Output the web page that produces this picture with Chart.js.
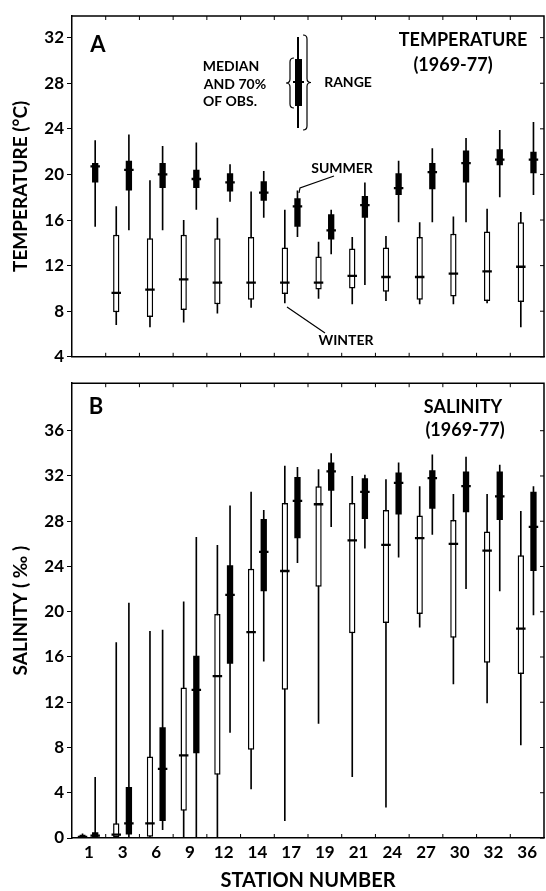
<!DOCTYPE html>
<html>
<head>
<meta charset="utf-8">
<script src="https://cdn.jsdelivr.net/npm/chart.js@4/dist/chart.umd.min.js"></script>
<style>
  html, body { margin: 0; padding: 0; background: #fff; }
  #wrap { position: relative; width: 546px; height: 891px; }
  .panel { position: absolute; left: 0; width: 546px; }
</style>
</head>
<body>
<div id="wrap">
  <div class="panel" style="top:0;height:370px"><canvas id="chartTemp"></canvas></div>
  <div class="panel" style="top:370px;height:521px"><canvas id="chartSal"></canvas></div>
</div>
<script>
const stations = ["1", "3", "6", "9", "12", "14", "17", "19", "21", "24", "27", "30", "32", "36"];

// temperature (deg C), winter = open boxes
const tempWinterMin  = [null, 6.8, 6.6, 7.0, 7.8, 8.3, 8.7, 9.1, 8.6, 8.9, 8.6, 8.6, 8.7, 6.6];
const tempWinterLow  = [null, 7.9, 7.5, 8.1, 8.6, 9.0, 9.5, 9.9, 10.0, 9.7, 9.0, 9.3, 8.9, 8.8];
const tempWinterMed  = [null, 9.6, 9.9, 10.8, 10.5, 10.5, 10.5, 10.5, 11.1, 11.0, 11.0, 11.3, 11.5, 11.9];
const tempWinterHigh = [null, 14.7, 14.4, 14.7, 14.4, 14.5, 13.6, 12.8, 13.5, 13.6, 14.5, 14.8, 15.0, 15.8];
const tempWinterMax  = [null, 17.2, 19.5, 16.0, 16.2, 18.5, 16.9, 14.1, 14.5, 14.6, 15.8, 16.3, 17.0, 16.7];

// temperature, summer = filled boxes
const tempSummerMin  = [15.4, 15.1, 15.1, 16.9, 17.6, 16.2, 14.5, 13.0, 10.3, 15.8, 15.8, 15.8, 18.0, 18.2];
const tempSummerLow  = [19.3, 18.6, 18.8, 18.8, 18.5, 17.7, 15.4, 14.3, 16.2, 18.2, 18.7, 19.3, 20.8, 20.1];
const tempSummerMed  = [20.7, 20.4, 20.0, 19.6, 19.3, 18.4, 17.2, 15.1, 17.3, 18.8, 20.2, 21.0, 21.3, 21.3];
const tempSummerHigh = [21.0, 21.2, 21.0, 20.4, 20.1, 19.4, 17.9, 16.5, 18.1, 20.1, 21.0, 22.1, 22.2, 22.0];
const tempSummerMax  = [23.0, 23.5, 22.5, 22.8, 20.9, 20.3, 18.6, 16.9, 19.3, 21.2, 22.3, 23.2, 23.9, 24.6];

// salinity (per mil), winter
const salWinterMin  = [0, 0, 0, 0, 0, 4.3, 1.5, 10.1, 5.4, 2.7, 18.6, 13.6, 11.9, 8.2];
const salWinterLow  = [0, 0, 0.1, 2.4, 5.6, 7.8, 13.1, 22.2, 18.1, 19.0, 19.8, 17.7, 15.5, 14.5];
const salWinterMed  = [0.1, 0.3, 1.3, 7.3, 14.3, 18.2, 23.6, 29.5, 26.3, 25.9, 26.5, 26.0, 25.4, 18.5];
const salWinterHigh = [0.3, 1.3, 7.2, 13.3, 19.8, 23.8, 29.6, 31.1, 29.6, 29.0, 28.5, 28.1, 27.1, 25.0];
const salWinterMax  = [0.4, 17.3, 18.3, 20.9, 25.9, 30.6, 32.9, 32.6, 32.0, 31.7, 31.1, 30.4, 30.4, 28.9];

// salinity, summer
const salSummerMin  = [0, 0, 0.7, 0, 9.3, 15.6, 24.3, 27.5, 25.6, 24.8, 26.8, 22.0, 21.8, 19.7];
const salSummerLow  = [0, 0.3, 1.5, 7.5, 15.4, 21.8, 26.5, 30.7, 28.2, 28.6, 29.1, 28.8, 28.1, 23.6];
const salSummerMed  = [0.2, 1.3, 6.1, 13.1, 21.5, 25.3, 29.8, 32.4, 30.6, 31.4, 31.8, 31.1, 30.2, 27.5];
const salSummerHigh = [0.5, 4.5, 9.8, 16.1, 24.1, 28.2, 31.9, 33.2, 31.8, 32.3, 32.5, 32.4, 32.4, 30.6];
const salSummerMax  = [5.4, 20.8, 18.4, 26.6, 29.4, 29.0, 32.8, 34.0, 32.1, 33.2, 33.9, 33.7, 33.0, 31.1];

const FONT = 'Lato, "DejaVu Sans", sans-serif';
const CAT_PCT = 0.75;

// whisker + 70% box + median tick for one season
function boxSets(min, low, med, high, max, stack, fill) {
  const pair = (a, b) => a.map((v, i) => (v == null ? null : [v, b[i]]));
  return [
    {
      label: stack + " range",
      data: pair(min, max),
      stack, order: 2,
      backgroundColor: "#000",
      barPercentage: 0.13, categoryPercentage: CAT_PCT,
    },
    {
      label: stack + " 70%",
      data: pair(low, high),
      stack, order: 1,
      backgroundColor: fill,
      borderColor: "#000",
      borderWidth: fill === "#fff" ? 1.5 : 0,
      borderSkipped: false,
      barPercentage: 0.5, categoryPercentage: CAT_PCT,
    },
    {
      label: stack + " median",
      data: med.map((v) => (v == null ? null : [v - 0.1, v + 0.1])),
      stack, order: 0,
      backgroundColor: "#000",
      barPercentage: 0.75, categoryPercentage: CAT_PCT,
    },
  ];
}

function drawText(ctx, items) {
  ctx.fillStyle = "#000";
  ctx.textAlign = "center";
  ctx.textBaseline = "middle";
  items.forEach((t) => {
    ctx.font = t.font;
    ctx.fillText(t.text, t.x, t.y);
  });
}

function brace(ctx, x, y1, y2, dir) {
  const w = 4 * dir;
  const ym = (y1 + y2) / 2;
  ctx.beginPath();
  ctx.moveTo(x + w, y1);
  ctx.quadraticCurveTo(x, y1, x, y1 + 4);
  ctx.lineTo(x, ym - 4);
  ctx.quadraticCurveTo(x, ym, x - w, ym);
  ctx.quadraticCurveTo(x, ym, x, ym + 4);
  ctx.lineTo(x, y2 - 4);
  ctx.quadraticCurveTo(x, y2, x + w, y2);
  ctx.stroke();
}

// closes the frame and adds the inward ticks on top, bottom and right
const frame = {
  id: "frame",
  afterDraw(chart) {
    const { ctx, chartArea: a, scales } = chart;
    const x = scales.x, y = scales.y;
    ctx.save();
    ctx.strokeStyle = "#000";
    ctx.lineWidth = 1.5;
    ctx.beginPath();
    ctx.moveTo(a.left, a.top);
    ctx.lineTo(a.right, a.top);
    ctx.lineTo(a.right, a.bottom);
    ctx.stroke();
    ctx.lineWidth = 1;
    ctx.beginPath();
    for (let i = 0; i < stations.length - 1; i++) {
      const px = (x.getPixelForValue(i) + x.getPixelForValue(i + 1)) / 2;
      ctx.moveTo(px, a.top); ctx.lineTo(px, a.top + 4);
      ctx.moveTo(px, a.bottom); ctx.lineTo(px, a.bottom - 4);
    }
    y.ticks.forEach((t) => {
      const py = y.getPixelForValue(t.value);
      ctx.moveTo(a.right, py); ctx.lineTo(a.right - 4, py);
    });
    ctx.stroke();
    ctx.restore();
  },
};

const tempNotes = {
  id: "tempNotes",
  afterDraw(chart) {
    const ctx = chart.ctx;
    ctx.save();
    drawText(ctx, [
      { text: "A", x: 98, y: 45, font: "bold 22px " + FONT },
      { text: "MEDIAN", x: 231, y: 66, font: "bold 14px " + FONT },
      { text: "AND 70%", x: 235, y: 84, font: "bold 14px " + FONT },
      { text: "OF OBS.", x: 230, y: 101, font: "bold 14px " + FONT },
      { text: "RANGE", x: 348, y: 82, font: "bold 14px " + FONT },
      { text: "TEMPERATURE", x: 463, y: 40, font: "bold 18px " + FONT },
      { text: "(1969-77)", x: 453, y: 65, font: "bold 18px " + FONT },
      { text: "SUMMER", x: 342, y: 168, font: "bold 14px " + FONT },
      { text: "WINTER", x: 346, y: 340, font: "bold 14px " + FONT },
    ]);
    // key glyph
    ctx.fillStyle = "#000";
    ctx.fillRect(297, 37, 2, 91);
    ctx.fillRect(295, 59, 7, 47);
    ctx.fillRect(293, 81, 11, 2);
    ctx.strokeStyle = "#000";
    ctx.lineWidth = 1.2;
    brace(ctx, 290, 58, 108, 1);
    brace(ctx, 307, 35, 130, -1);
    // pointers
    ctx.lineWidth = 1.2;
    ctx.beginPath();
    ctx.moveTo(299, 193); ctx.lineTo(300, 188); ctx.lineTo(334, 176);
    ctx.moveTo(287, 307); ctx.lineTo(325, 333);
    ctx.stroke();
    ctx.restore();
  },
};

const salNotes = {
  id: "salNotes",
  afterDraw(chart) {
    const ctx = chart.ctx;
    ctx.save();
    drawText(ctx, [
      { text: "B", x: 96, y: 37, font: "bold 22px " + FONT },
      { text: "SALINITY", x: 463, y: 37, font: "bold 18px " + FONT },
      { text: "(1969-77)", x: 465, y: 60, font: "bold 18px " + FONT },
    ]);
    ctx.restore();
  },
};

function makeChart(canvasId, sets, yOpts, xOpts, padding, plugins) {
  return new Chart(document.getElementById(canvasId), {
    type: "bar",
    data: { labels: stations, datasets: sets },
    plugins: [frame].concat(plugins),
    options: {
      animation: false,
      responsive: true,
      maintainAspectRatio: false,
      layout: { padding },
      plugins: { legend: { display: false }, tooltip: { enabled: false } },
      scales: {
        x: Object.assign({
          type: "category",
          offset: true,
          grid: { display: false, drawTicks: false },
          border: { display: true, color: "#000", width: 1.5 },
        }, xOpts),
        y: Object.assign({
          stacked: false,
          ticks: {
            stepSize: 4,
            color: "#000",
            padding: 3,
            font: { family: FONT, size: 17, weight: "bold" },
          },
          grid: { display: true, drawOnChartArea: false, color: "#000", tickLength: 5, lineWidth: 1 },
          border: { display: true, color: "#000", width: 1.5 },
          afterBuildTicks: (s) => { s.ticks = s.ticks.filter((t) => t.value % 4 === 0); },
          afterFit: (s) => { s.width = 72; },
        }, yOpts),
      },
    },
  });
}

document.addEventListener("DOMContentLoaded", () => {
  makeChart(
    "chartTemp",
    boxSets(tempWinterMin, tempWinterLow, tempWinterMed, tempWinterHigh, tempWinterMax, "winter", "#fff")
      .concat(boxSets(tempSummerMin, tempSummerLow, tempSummerMed, tempSummerHigh, tempSummerMax, "summer", "#000")),
    {
      min: 4, max: 33.9,
      title: { display: true, text: "TEMPERATURE (°C)", color: "#000", padding: { top: 9, bottom: 0 },
               font: { family: FONT, size: 19, weight: "bold" } },
    },
    { ticks: { display: false }, afterFit: (s) => { s.height = 0; } },
    { top: 16, right: 2, bottom: 13, left: 0 },
    [tempNotes]
  );

  makeChart(
    "chartSal",
    boxSets(salWinterMin, salWinterLow, salWinterMed, salWinterHigh, salWinterMax, "winter", "#fff")
      .concat(boxSets(salSummerMin, salSummerLow, salSummerMed, salSummerHigh, salSummerMax, "summer", "#000")),
    {
      min: 0, max: 40.2,
      title: { display: true, text: "SALINITY ( ‰ )", color: "#000", padding: { top: 9, bottom: 0 },
               font: { family: FONT, size: 19, weight: "bold" } },
    },
    {
      ticks: { color: "#000", padding: 4, font: { family: FONT, size: 17, weight: "bold" } },
      title: { display: true, text: "STATION NUMBER", color: "#000", padding: { top: 0, bottom: 0 },
               font: { family: FONT, size: 20, weight: "bold", lineHeight: 1 } },
      afterFit: (s) => { s.height = 53; },
    },
    { top: 10, right: 2, bottom: 0, left: 0 },
    [salNotes]
  );
});
</script>
</body>
</html>
